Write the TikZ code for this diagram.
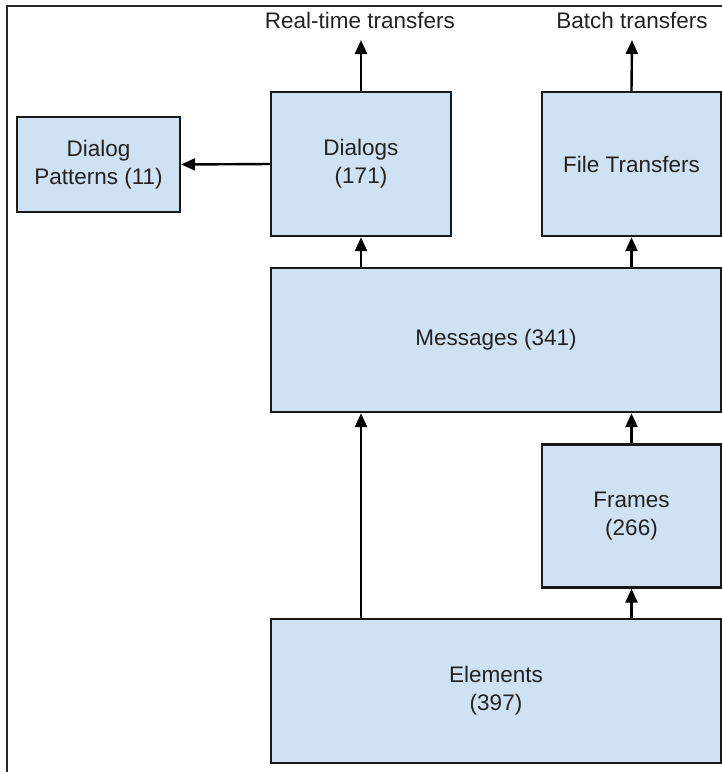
\documentclass[tikz,border=0pt]{standalone}
\usepackage{fontspec}
\setmainfont{Liberation Sans}
\usetikzlibrary{arrows.meta}
\definecolor{boxfill}{HTML}{CFE2F3}
\definecolor{txt}{HTML}{222222}
\tikzset{
  box/.style={draw=black!90, line width=2.4pt, fill=boxfill, inner sep=0pt,
    align=center, text=txt, font=\fontsize{22.5}{28}\selectfont},
  lbl/.style={inner sep=0pt, anchor=base, text=txt, font=\fontsize{22.5}{28}\selectfont},
  arr/.style={draw=black, line width=2.4pt, -{Triangle[length=14pt,width=12pt]}},
  frameline/.style={draw=black!85, line width=2pt}
}
\begin{document}
\begin{tikzpicture}[x=1pt,y=-1pt]
\useasboundingbox (0,0) rectangle (722,772);
\fill[white] (0,0) rectangle (722,772);
% outer frame lines
\draw[frameline] (7,772) -- (7,6) -- (722,6);
% boxes
\node[box, minimum width=163pt, minimum height=95pt] (dp) at (98.5,164.5) {Dialog\\Patterns (11)};
\node[box, minimum width=180pt, minimum height=144pt] (dialogs) at (361,164) {Dialogs\\(171)};
\node[box, minimum width=179pt, minimum height=144pt] (ft) at (631.5,164) {File Transfers};
\node[box, minimum width=450pt, minimum height=144pt] (msg) at (496,340) {Messages (341)};
\node[box, minimum width=179pt, minimum height=143pt] (frames) at (631.5,516) {Frames\\(266)};
\node[box, minimum width=450pt, minimum height=144pt] (elem) at (496,691) {Elements\\(397)};
% top labels
\node[lbl] (rt) at (360,28) {Real-time transfers};
\node[lbl] (bt) at (632,28) {Batch transfers};
\coordinate (rtend) at (361,40);
\coordinate (btend) at (632,40);
% connectors
\draw[arr] (dialogs.north) -- (rtend);
\draw[arr] (ft.north) -- (btend);
\draw[arr] (dialogs.west) -- (dp.east);
\draw[arr] (msg.north -| dialogs) -- (dialogs.south);
\draw[arr] (msg.north -| ft) -- (ft.south);
\draw[arr] (elem.north -| dialogs) -- (msg.south -| dialogs);
\draw[arr] (frames.north) -- (msg.south -| frames);
\draw[arr] (elem.north -| frames) -- (frames.south);
\end{tikzpicture}
\end{document}
